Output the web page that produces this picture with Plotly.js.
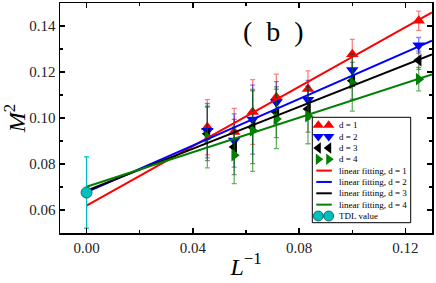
<!DOCTYPE html>
<html>
<head>
<meta charset="utf-8">
<script src="https://cdn.plot.ly/plotly-3.0.1.min.js"></script>
<style>html,body{margin:0;padding:0;background:#fff;}#chart{width:436px;height:283px;}</style>
</head>
<body>
<div id="chart"></div>
<script>
// ---- data ----
var sizesL = [22, 18, 16, 14, 12, 10, 8];              // system sizes L (x = 1/L)
var m2_d1 = [0.0960, 0.0939, 0.1026, 0.1090, 0.1126, 0.1277, 0.1423];
var err_d1 = [0.0120, 0.0103, 0.0141, 0.0101, 0.0079, 0.0065, 0.0042];
var m2_d2 = [0.0945, 0.0902, 0.0993, 0.1068, 0.1079, 0.1209, 0.1316];
var err_d2 = [0.0118, 0.0116, 0.0150, 0.0090, 0.0085, 0.0070, 0.0034];
var m2_d3 = [0.0931, 0.0874, 0.0960, 0.1025, 0.1039, 0.1162, 0.1251];
var err_d3 = [0.0116, 0.0120, 0.0158, 0.0110, 0.0100, 0.0080, 0.0040];
var m2_d4 = [0.0917, 0.0838, 0.0946, 0.0996, 0.1008, 0.1152, 0.1169];
var err_d4 = [0.0134, 0.0123, 0.0178, 0.0129, 0.0120, 0.0122, 0.0051];
var fitX = [0, 0.13];
var fit_d1 = [0.0619, 0.1459];
var fit_d2 = [0.0678, 0.1336];
var fit_d3 = [0.0684, 0.1276];
var fit_d4 = [0.0701, 0.1189];
var tdlX = [0];
var tdlY = [0.0676];
var tdlErr = [0.0155];
var seriesNames = ['d = 1', 'd = 2', 'd = 3', 'd = 4'];
var fitNames = ['linear fitting, d = 1', 'linear fitting, d = 2', 'linear fitting, d = 3', 'linear fitting, d = 4'];
var tdlName = 'TDL value';
var panelLabel = '(&nbsp;&nbsp;b&nbsp;&nbsp;)';
var xTickVals = [0.00, 0.04, 0.08, 0.12];
var xTickText = ['0.00', '0.04', '0.08', '0.12'];
var yTickVals = [0.06, 0.08, 0.10, 0.12, 0.14];
var yTickText = ['0.06', '0.08', '0.10', '0.12', '0.14'];

// ---- styles ----
var invL = sizesL.map(function (l) { return 1 / l; });
var colors = ['#ff0000', '#0000ff', '#000000', '#008000'];
var errColors = ['rgba(255,0,0,0.5)', 'rgba(0,0,255,0.5)', 'rgba(0,0,0,0.45)', 'rgba(0,128,0,0.6)'];
var symbols = ['triangle-up', 'triangle-down', 'triangle-left', 'triangle-right'];
var tdlColor = '#00bfbf';
var serif = 'Liberation Serif, DejaVu Serif, serif';
var ys = [m2_d1, m2_d2, m2_d3, m2_d4];
var es = [err_d1, err_d2, err_d3, err_d4];
var fits = [fit_d1, fit_d2, fit_d3, fit_d4];

var traces = [];
for (var i = 0; i < 4; i++) {
  traces.push({
    x: invL, y: ys[i], type: 'scatter', mode: 'markers', name: seriesNames[i],
    marker: {symbol: symbols[i], size: 11, color: colors[i], line: {width: 0}},
    error_y: {type: 'data', array: es[i], visible: true, color: errColors[i], thickness: 1.3, width: 2.5},
    showlegend: false, hoverinfo: 'x+y'
  });
}
for (var j = 0; j < 4; j++) {
  traces.push({
    x: fitX, y: fits[j], type: 'scatter', mode: 'lines', name: fitNames[j],
    line: {color: colors[j], width: 2}, showlegend: false
  });
}
traces.push({
  x: tdlX, y: tdlY, type: 'scatter', mode: 'markers', name: tdlName,
  marker: {symbol: 'circle', size: 11, color: tdlColor, line: {color: '#1a4a4a', width: 0.8}},
  error_y: {type: 'data', array: tdlErr, visible: true, color: tdlColor, thickness: 1.3, width: 2.5},
  showlegend: false
});

// ---- custom legend (matplotlib style, two sample markers) on a pixel overlay axis ----
var lgLeft = 312.3, lgRight = 410.7, lgTop = 117.3, lgBottom = 222.7;
var row0 = 125.2, rowStep = 11.35;
var mk1 = 318.3, mk2 = 328.7, lnA = 316.3, lnB = 331.8, txtX = 336.5;
var shapes = [{
  type: 'rect', xref: 'x2', yref: 'y2', x0: lgLeft, x1: lgRight, y0: lgTop, y1: lgBottom,
  line: {color: '#000', width: 1}, fillcolor: '#fff', layer: 'below'
}];
var annotations = [];
var labels = seriesNames.concat(fitNames).concat([tdlName]);
for (var k = 0; k < labels.length; k++) {
  var ry = row0 + k * rowStep;
  annotations.push({
    xref: 'x2', yref: 'y2', x: txtX, y: ry, text: labels[k], showarrow: false,
    xanchor: 'left', yanchor: 'middle', font: {family: serif, size: 9, color: '#000'}
  });
  if (k < 4) {
    traces.push({
      x: [mk1, mk2], y: [ry, ry], xaxis: 'x2', yaxis: 'y2', type: 'scatter', mode: 'markers',
      marker: {symbol: symbols[k], size: 10, color: colors[k], line: {width: 0}},
      showlegend: false, hoverinfo: 'skip', cliponaxis: false
    });
  } else if (k < 8) {
    traces.push({
      x: [lnA, lnB], y: [ry, ry], xaxis: 'x2', yaxis: 'y2', type: 'scatter', mode: 'lines',
      line: {color: colors[k - 4], width: 2}, showlegend: false, hoverinfo: 'skip'
    });
  } else {
    traces.push({
      x: [mk1, mk2], y: [ry, ry], xaxis: 'x2', yaxis: 'y2', type: 'scatter', mode: 'markers',
      marker: {symbol: 'circle', size: 10, color: tdlColor, line: {color: '#1a4a4a', width: 0.8}},
      showlegend: false, hoverinfo: 'skip', cliponaxis: false
    });
  }
}

annotations.push({
  xref: 'paper', yref: 'paper', x: 0.574, y: 0.878, text: panelLabel, showarrow: false,
  xanchor: 'center', yanchor: 'middle', font: {family: serif, size: 28, color: '#000'}
});

var layout = {
  width: 436, height: 283,
  margin: {l: 60, r: 4, t: 3, b: 50, pad: 0},
  paper_bgcolor: '#fff', plot_bgcolor: '#fff',
  showlegend: false,
  font: {family: serif, color: '#000'},
  xaxis: {
    range: [-0.01, 0.13], tickvals: xTickVals, ticktext: xTickText,
    ticks: 'inside', ticklen: 5, tickwidth: 1.5, tickcolor: '#000',
    minor: {dtick: 0.02, tick0: 0, ticks: 'inside', ticklen: 3, tickwidth: 1.2, tickcolor: '#000'},
    showline: true, linecolor: '#000', linewidth: 1.5, mirror: 'allticks',
    showgrid: false, zeroline: false,
    tickfont: {family: serif, size: 15, color: '#222'},
    title: {text: '<i>L</i><sup>−1</sup>', font: {family: serif, size: 24, color: '#000'}, standoff: 3}
  },
  yaxis: {
    range: [0.05, 0.15], tickvals: yTickVals, ticktext: yTickText,
    ticks: 'inside', ticklen: 5, tickwidth: 1.5, tickcolor: '#000',
    minor: {dtick: 0.01, tick0: 0, ticks: 'inside', ticklen: 3, tickwidth: 1.2, tickcolor: '#000'},
    showline: true, linecolor: '#000', linewidth: 1.5, mirror: 'allticks',
    showgrid: false, zeroline: false,
    tickfont: {family: serif, size: 15, color: '#222'},
    title: {text: '<i>M</i><sup>2</sup>', font: {family: serif, size: 24, color: '#000'}, standoff: 4}
  },
  xaxis2: {overlaying: 'x', range: [60, 432], visible: false, anchor: 'y2', fixedrange: true},
  yaxis2: {overlaying: 'y', range: [233, 3], visible: false, anchor: 'x2', fixedrange: true},
  shapes: shapes,
  annotations: annotations
};

Plotly.newPlot('chart', traces, layout, {displayModeBar: false, staticPlot: true});
</script>
</body>
</html>
